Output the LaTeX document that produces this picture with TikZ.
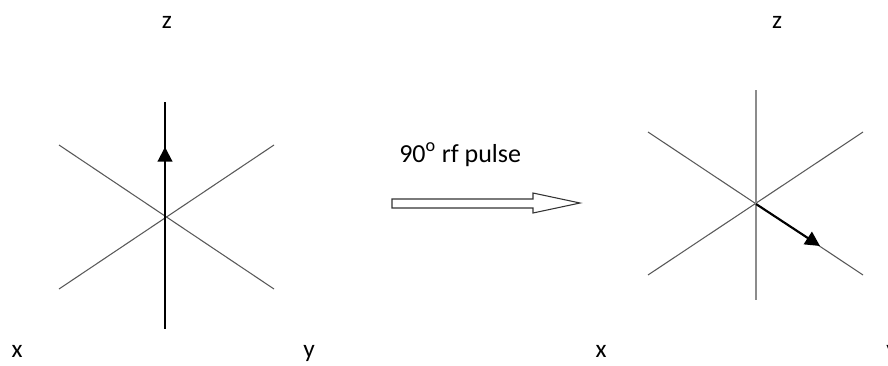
\documentclass[tikz,border=0pt]{standalone}
\usepackage{fontspec}
\setmainfont{Carlito}
\usetikzlibrary{arrows.meta}
\begin{document}
\begin{tikzpicture}[x=0.75pt,y=-0.75pt,
  axis/.style={draw=black!65, line width=0.8pt},
  zaxis/.style={draw=black, line width=1.1pt},
  zaxisgray/.style={draw=black!45, line width=1.5pt},
  vec/.style={draw=black, line width=1.6pt, -{Triangle[length=11pt,width=11pt]}},
  lbl/.style={font=\fontsize{19}{22}\selectfont, inner sep=0pt}
]
\useasboundingbox (0,0) rectangle (888,365);
% left frame
\coordinate (o1) at (165,217);
\coordinate (ul1) at (59,145);
\coordinate (ur1) at (274,145);
\coordinate (ll1) at (59,289);
\coordinate (lr1) at (274,289);
\coordinate (zt1) at (165,102);
\coordinate (zb1) at (165,329);
\coordinate (tip1) at (165,147);
\draw[axis] (ul1) -- (lr1);
\draw[axis] (ur1) -- (ll1);
\draw[zaxis] (zt1) -- (zb1);
\draw[vec] (o1) -- (tip1);
% right frame
\coordinate (o2) at (756,204);
\coordinate (ul2) at (648,132);
\coordinate (ur2) at (863,132);
\coordinate (ll2) at (648,275);
\coordinate (lr2) at (863,275);
\coordinate (zt2) at (756,90);
\coordinate (zb2) at (756,300);
\coordinate (tip2) at (820,246);
\draw[axis] (ul2) -- (lr2);
\draw[axis] (ur2) -- (ll2);
\draw[zaxisgray] (zt2) -- (zb2);
\draw[vec] (o2) -- (tip2);
% hollow arrow
\draw[black!80, line width=0.8pt, fill=white]
  (392,199) -- (533,199) -- (533,193) -- (580,203) -- (533,213) -- (533,208) -- (392,208) -- cycle;
\node[anchor=base west, inner sep=0pt, font=\fontsize{19.5}{23}\selectfont] (pulse) at (399,162) {90\textsuperscript{o} rf pulse};
% labels
\node[lbl, anchor=base] (z1) at (167,28) {z};
\node[lbl, anchor=base] (z2) at (777,28) {z};
\node[lbl, anchor=base] (x1) at (17,357) {x};
\node[lbl, anchor=base] (y1) at (309,357) {y};
\node[lbl, anchor=base] (x2) at (601,357) {x};
\node[lbl, anchor=base] (y2) at (892,357) {y};
\end{tikzpicture}
\end{document}
